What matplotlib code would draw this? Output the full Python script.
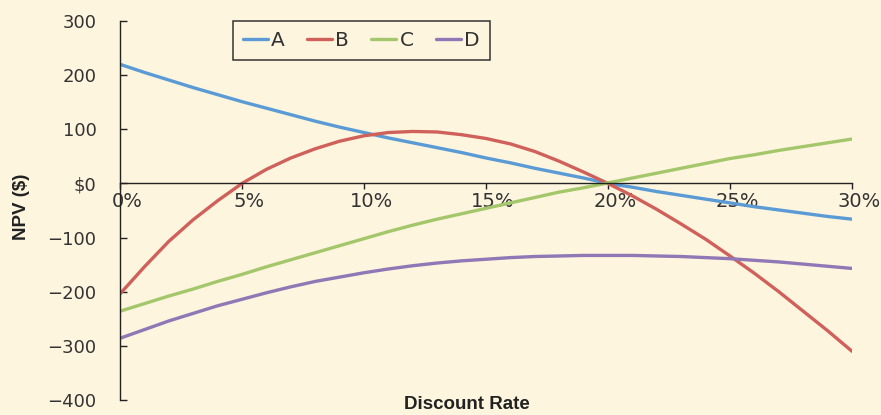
import numpy as np
import matplotlib.pyplot as plt
import matplotlib.transforms as mtransforms
from matplotlib.ticker import FuncFormatter

# discount rate (%) and NPV ($)
rates = list(range(0, 31))
npv_a = [220, 205, 191, 177, 164, 151, 139, 127, 115, 104, 94, 84, 75, 66, 57, 47,
         38, 28, 19, 10, 0, -7, -15, -22, -29, -36, -43, -49, -55, -61, -66]
npv_b = [-204, -154, -107, -67, -32, 0, 26, 47, 64, 78, 88, 94, 96, 95, 90, 83,
         73, 59, 41, 21, 0, -23, -48, -75, -103, -134, -166, -200, -236, -272, -310]
npv_c = [-236, -222, -208, -195, -181, -168, -154, -141, -128, -115, -102, -89, -77, -66, -56, -46,
         -36, -26, -16, -8, 1, 10, 19, 28, 37, 46, 53, 61, 68, 75, 82]
npv_d = [-286, -270, -254, -240, -226, -214, -202, -191, -181, -173, -165, -158, -152, -147, -143, -140,
         -137, -135, -134, -133, -133, -133, -134, -135, -137, -139, -142, -145, -149, -153, -157]

labels = ['A', 'B', 'C', 'D']
colors = ['#5b9bd5', '#d0605a', '#a3c76a', '#8f78b5']
bg = '#fef5df'
txt = '#333333'
dark = '#222222'

fig = plt.figure(figsize=(8.81, 4.15), dpi=100, facecolor=bg)
ax = fig.add_axes([120/881, 1-400/415, (852-120)/881, (400-21)/415])
ax.set_facecolor(bg)

for ys, lab, c in zip([npv_a, npv_b, npv_c, npv_d], labels, colors):
    ax.plot(rates, ys, color=c, lw=2.4, label=lab, solid_capstyle='round')

ax.set_xlim(0, 30)
ax.set_ylim(-400, 300)

# left axis plus horizontal axis through zero
for s in ['top', 'right']:
    ax.spines[s].set_visible(False)
ax.spines['bottom'].set_position(('data', 0))
for s in ['left', 'bottom']:
    ax.spines[s].set_color(dark)
    ax.spines[s].set_linewidth(1.0)

ax.set_xticks(np.arange(0, 31, 5))
ax.xaxis.set_major_formatter(FuncFormatter(lambda v, p: f'{int(v)}%'))
ax.set_yticks(np.arange(-400, 301, 100))
ax.yaxis.set_major_formatter(FuncFormatter(
    lambda v, p: '$0' if v == 0 else (f'\u2212{abs(int(v))}' if v < 0 else f'{int(v)}')))

ax.tick_params(axis='x', direction='out', length=4, width=1, color=dark,
               labelsize=14, labelcolor=txt, pad=2)
ax.tick_params(axis='y', direction='in', length=5, width=1, color=dark,
               labelsize=13, labelcolor=txt, pad=17)

# x tick labels sit a little right of their ticks
shift = mtransforms.ScaledTranslation(7/100, 0, fig.dpi_scale_trans)
for lbl in ax.get_xticklabels():
    lbl.set_transform(lbl.get_transform() + shift)

fig.text(22/881, 1-207/415, 'NPV ($)', rotation=90, ha='center', va='center',
         fontsize=13.5, fontweight='bold', color=dark, family='Liberation Sans')
fig.text(467/881, 1-404/415, 'Discount Rate', ha='center', va='center',
         fontsize=13.5, fontweight='bold', color=dark, family='Liberation Sans')

leg = ax.legend(loc='upper left', bbox_to_anchor=((233-120)/732, 1.0), ncol=4,
                frameon=True, fancybox=False, handlelength=1.25, handletextpad=0.15,
                columnspacing=1.1, fontsize=14.5, borderpad=0.5, borderaxespad=0)
leg.get_frame().set_edgecolor('#333333')
leg.get_frame().set_facecolor(bg)
leg.get_frame().set_linewidth(1.1)
leg.get_frame().set_alpha(1)
for t in leg.get_texts():
    t.set_color(txt)

fig.savefig('out.png', dpi=100, facecolor=bg)
